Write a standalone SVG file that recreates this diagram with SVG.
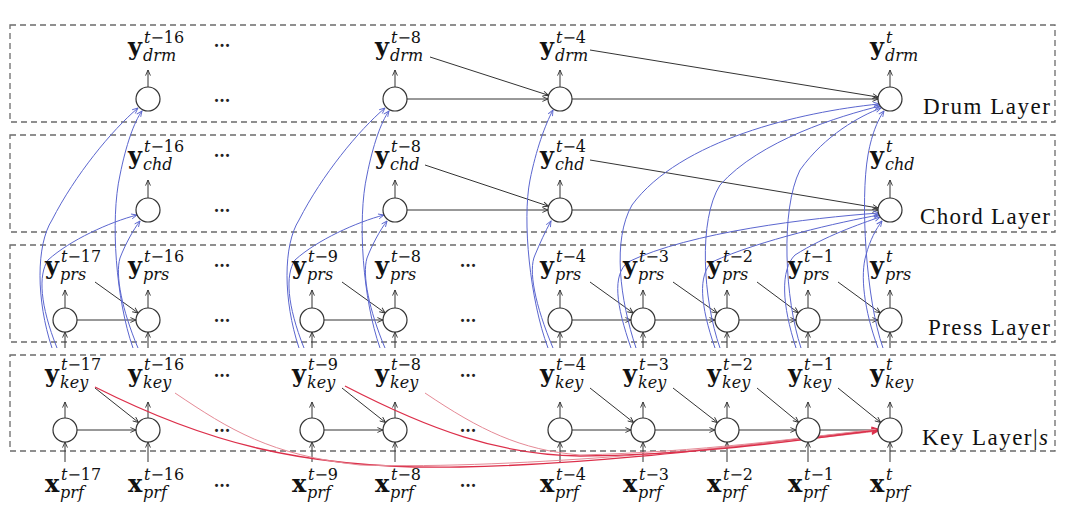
<svg xmlns="http://www.w3.org/2000/svg" width="1080" height="526" viewBox="0 0 1080 526">
<defs>
<style>
.box{fill:none;stroke:#6b6b6b;stroke-width:1.3;stroke-dasharray:6,4}
.nd{fill:#fff;stroke:#333;stroke-width:1.2}
.ln{fill:none;stroke:#333;stroke-width:1;marker-end:url(#ak)}
.bl{fill:none;stroke:#5b66cf;stroke-width:1;marker-end:url(#ab)}
.rd{fill:none;stroke:#dc2f4a;stroke-width:1.3;marker-end:url(#ar)}
.rl{fill:none;stroke:#e58a96;stroke-width:1;marker-end:url(#ar)}
.b{font-family:"DejaVu Serif",serif;font-weight:bold;font-size:24px;fill:#111}
.sp{font-family:"DejaVu Serif",serif;font-size:16px;fill:#111}
.sb{font-family:"DejaVu Serif",serif;font-style:italic;font-size:16px;fill:#111}
.i{font-style:italic}
.lay{font-family:"Liberation Serif","Times New Roman",serif;font-size:23px;fill:#111}
.dt{font-family:"DejaVu Serif",serif;font-weight:bold;font-size:16px;text-anchor:middle;fill:#222}
</style>
<marker id="ak" viewBox="0 0 10 10" refX="9" refY="5" markerWidth="7" markerHeight="7" markerUnits="userSpaceOnUse" orient="auto"><path d="M1,1.5 L9,5 L1,8.5" fill="none" stroke="#333" stroke-width="1.3"/></marker>
<marker id="ab" viewBox="0 0 10 10" refX="9" refY="5" markerWidth="7" markerHeight="7" markerUnits="userSpaceOnUse" orient="auto"><path d="M1,1.5 L9,5 L1,8.5" fill="none" stroke="#5b66cf" stroke-width="1.3"/></marker>
<marker id="ar" viewBox="0 0 10 10" refX="9" refY="5" markerWidth="8" markerHeight="8" markerUnits="userSpaceOnUse" orient="auto"><path d="M1,1.5 L9,5 L1,8.5" fill="none" stroke="#dc2f4a" stroke-width="1.5"/></marker>
</defs>
<rect width="1080" height="526" fill="#fff"/>

<g id="layers">
<rect class="box" x="10" y="25" width="1045" height="97"/>
<rect class="box" x="10" y="135" width="1045" height="97"/>
<rect class="box" x="10" y="245" width="1045" height="97"/>
<rect class="box" x="10" y="355" width="1045" height="96"/>
<text class="lay" x="923" y="114" textLength="127" lengthAdjust="spacing">Drum Layer</text>
<text class="lay" x="920" y="224" textLength="130" lengthAdjust="spacing">Chord Layer</text>
<text class="lay" x="928" y="335" textLength="122" lengthAdjust="spacing">Press Layer</text>
<text class="lay" x="922" y="445" textLength="126" lengthAdjust="spacing">Key Layer|<tspan font-style="italic">s</tspan></text>
</g>

<g id="dots">
<text class="dt" x="222" y="47">...</text>
<text class="dt" x="222" y="102">...</text>
<text class="dt" x="222" y="157">...</text>
<text class="dt" x="222" y="212">...</text>
<text class="dt" x="222" y="267">...</text>
<text class="dt" x="222" y="322">...</text>
<text class="dt" x="222" y="377">...</text>
<text class="dt" x="222" y="432">...</text>
<text class="dt" x="222" y="487">...</text>
<text class="dt" x="468" y="267">...</text>
<text class="dt" x="468" y="322">...</text>
<text class="dt" x="468" y="377">...</text>
<text class="dt" x="468" y="432">...</text>
<text class="dt" x="468" y="487">...</text>
</g>

<g id="connectors">
<path class="ln" d="M148,87 V70"/><path class="ln" d="M395,87 V70"/><path class="ln" d="M560,87 V70"/><path class="ln" d="M890,87 V70"/>
<path class="ln" d="M148,198 V180"/><path class="ln" d="M395,198 V180"/><path class="ln" d="M560,198 V180"/><path class="ln" d="M890,198 V180"/>
<path class="ln" d="M65,308 V290"/><path class="ln" d="M148,308 V290"/><path class="ln" d="M312,308 V290"/><path class="ln" d="M395,308 V290"/><path class="ln" d="M560,308 V290"/><path class="ln" d="M643,308 V290"/><path class="ln" d="M727,308 V290"/><path class="ln" d="M808,308 V290"/><path class="ln" d="M890,308 V290"/>
<path class="ln" d="M65,418 V402"/><path class="ln" d="M148,418 V402"/><path class="ln" d="M312,418 V402"/><path class="ln" d="M395,418 V402"/><path class="ln" d="M560,418 V402"/><path class="ln" d="M643,418 V402"/><path class="ln" d="M727,418 V402"/><path class="ln" d="M808,418 V402"/><path class="ln" d="M890,418 V402"/>
<path class="ln" d="M65,348 V332"/><path class="ln" d="M148,348 V332"/><path class="ln" d="M312,348 V332"/><path class="ln" d="M395,348 V332"/><path class="ln" d="M560,348 V332"/><path class="ln" d="M643,348 V332"/><path class="ln" d="M727,348 V332"/><path class="ln" d="M808,348 V332"/><path class="ln" d="M890,348 V332"/>
<path class="ln" d="M65,462 V442"/><path class="ln" d="M148,462 V442"/><path class="ln" d="M312,462 V442"/><path class="ln" d="M395,462 V442"/><path class="ln" d="M560,462 V442"/><path class="ln" d="M643,462 V442"/><path class="ln" d="M727,462 V442"/><path class="ln" d="M808,462 V442"/><path class="ln" d="M890,462 V442"/>
<path class="ln" d="M407,99 H548"/><path class="ln" d="M572,99 H878"/>
<path class="ln" d="M407,210 H548"/><path class="ln" d="M572,210 H878"/>
<path class="ln" d="M77,320 H136"/><path class="ln" d="M324,320 H383"/><path class="ln" d="M572,320 H631"/><path class="ln" d="M655,320 H715"/><path class="ln" d="M739,320 H796"/><path class="ln" d="M820,320 H878"/>
<path class="ln" d="M77,430 H136"/><path class="ln" d="M324,430 H383"/><path class="ln" d="M572,430 H631"/><path class="ln" d="M655,430 H715"/><path class="ln" d="M739,430 H796"/><path class="ln" d="M820,430 H878"/>
<path class="ln" d="M430,57 L548.6,95.3"/><path class="ln" d="M590,50 L878.2,97.1"/>
<path class="ln" d="M425,165 L548.6,206.2"/><path class="ln" d="M590,160 L878.2,208"/>
<path class="ln" d="M95,282 L138.2,313"/><path class="ln" d="M342,282 L385.2,313"/><path class="ln" d="M590,282 L633.2,313"/><path class="ln" d="M673,282 L717.2,313.1"/><path class="ln" d="M757,282 L798.4,312.8"/><path class="ln" d="M838,282 L880.3,312.9"/>
<path class="ln" d="M95,388 L138.6,422.5"/><path class="ln" d="M342,388 L385.6,422.5"/><path class="ln" d="M590,388 L633.6,422.5"/><path class="ln" d="M673,388 L717.5,422.6"/><path class="ln" d="M757,388 L798.7,422.4"/><path class="ln" d="M838,388 L880.7,422.5"/>
<path class="bl" d="M52,348 C36,300 36,245 52,220 C75,175 112,130 138,108"/>
<path class="bl" d="M133,348 C116,300 110,220 120,175 C126,145 134,122 142,111"/>
<path class="bl" d="M57,348 C40,305 38,275 48,260 C70,240 110,222 137,215"/>
<path class="bl" d="M138,348 C122,310 115,275 120,258 C125,245 133,230 140,221"/>
<path class="bl" d="M299,348 C283,300 283,245 299,220 C322,175 359,130 385,108"/>
<path class="bl" d="M380,348 C363,300 357,220 367,175 C373,145 381,122 389,111"/>
<path class="bl" d="M304,348 C287,305 285,275 295,260 C317,240 357,222 384,215"/>
<path class="bl" d="M385,348 C369,310 362,275 367,258 C372,245 380,230 387,221"/>
<path class="bl" d="M548,348 C530,300 522,220 530,180 C536,150 545,125 553,110"/>
<path class="bl" d="M553,348 C535,305 528,270 535,255 C540,243 545,232 551,221"/>
<path class="bl" d="M636,348 C620,300 612,240 632,205 C680,140 800,112 879,104"/>
<path class="bl" d="M631,348 C616,305 612,275 628,262 C690,232 810,218 879,213"/>
<path class="bl" d="M720,348 C703,300 698,220 720,185 C760,140 840,116 880,106"/>
<path class="bl" d="M715,348 C700,305 698,275 712,262 C760,240 840,222 879,215"/>
<path class="bl" d="M801,348 C785,300 780,210 800,170 C825,135 860,116 881,108"/>
<path class="bl" d="M796,348 C782,305 780,270 795,255 C825,236 860,224 880,217"/>
<path class="bl" d="M883,348 C866,300 860,200 868,155 C872,132 879,118 884,111"/>
<path class="bl" d="M878,348 C864,310 860,275 866,255 C870,240 876,229 882,221"/>
<path class="rd" d="M95,387 C200,440 300,470 460,467 C620,464 780,440 878,430"/>
<path class="rl" d="M175,393 C230,430 270,455 360,465 C520,470 760,445 878,431"/>
<path class="rd" d="M345,386 C430,430 500,455 580,456 C700,455 800,440 878,430"/>
<path class="rl" d="M425,393 C480,430 520,450 580,455 C700,452 800,438 878,429"/>
</g>

<g id="drum-nodes">
<g id="drm-t16"><circle class="nd" cx="148" cy="99" r="12"/></g>
<g id="drm-t8"><circle class="nd" cx="395" cy="99" r="12"/></g>
<g id="drm-t4"><circle class="nd" cx="560" cy="99" r="12"/></g>
<g id="drm-t"><circle class="nd" cx="890" cy="99" r="12"/></g>
</g>
<g id="chord-nodes">
<g id="chd-t16"><circle class="nd" cx="148" cy="210" r="12"/></g>
<g id="chd-t8"><circle class="nd" cx="395" cy="210" r="12"/></g>
<g id="chd-t4"><circle class="nd" cx="560" cy="210" r="12"/></g>
<g id="chd-t"><circle class="nd" cx="890" cy="210" r="12"/></g>
</g>
<g id="press-nodes">
<g id="prs-t17"><circle class="nd" cx="65" cy="320" r="12"/></g>
<g id="prs-t16"><circle class="nd" cx="148" cy="320" r="12"/></g>
<g id="prs-t9"><circle class="nd" cx="312" cy="320" r="12"/></g>
<g id="prs-t8"><circle class="nd" cx="395" cy="320" r="12"/></g>
<g id="prs-t4"><circle class="nd" cx="560" cy="320" r="12"/></g>
<g id="prs-t3"><circle class="nd" cx="643" cy="320" r="12"/></g>
<g id="prs-t2"><circle class="nd" cx="727" cy="320" r="12"/></g>
<g id="prs-t1"><circle class="nd" cx="808" cy="320" r="12"/></g>
<g id="prs-t"><circle class="nd" cx="890" cy="320" r="12"/></g>
</g>
<g id="key-nodes">
<g id="key-t17"><circle class="nd" cx="65" cy="430" r="12"/></g>
<g id="key-t16"><circle class="nd" cx="148" cy="430" r="12"/></g>
<g id="key-t9"><circle class="nd" cx="312" cy="430" r="12"/></g>
<g id="key-t8"><circle class="nd" cx="395" cy="430" r="12"/></g>
<g id="key-t4"><circle class="nd" cx="560" cy="430" r="12"/></g>
<g id="key-t3"><circle class="nd" cx="643" cy="430" r="12"/></g>
<g id="key-t2"><circle class="nd" cx="727" cy="430" r="12"/></g>
<g id="key-t1"><circle class="nd" cx="808" cy="430" r="12"/></g>
<g id="key-t"><circle class="nd" cx="890" cy="430" r="12"/></g>
</g>

<g id="labels-drm">
<g id="y-drm-t16"><text class="b" x="128" y="55">y</text><text class="sp" x="144" y="43"><tspan class="i">t</tspan>−16</text><text class="sb" x="143" y="61">drm</text></g>
<g id="y-drm-t8"><text class="b" x="375" y="55">y</text><text class="sp" x="391" y="43"><tspan class="i">t</tspan>−8</text><text class="sb" x="390" y="61">drm</text></g>
<g id="y-drm-t4"><text class="b" x="540" y="55">y</text><text class="sp" x="556" y="43"><tspan class="i">t</tspan>−4</text><text class="sb" x="555" y="61">drm</text></g>
<g id="y-drm-t"><text class="b" x="870" y="55">y</text><text class="sp i" x="886" y="43">t</text><text class="sb" x="885" y="61">drm</text></g>
</g>
<g id="labels-chd">
<g id="y-chd-t16"><text class="b" x="128" y="164">y</text><text class="sp" x="144" y="152"><tspan class="i">t</tspan>−16</text><text class="sb" x="143" y="170">chd</text></g>
<g id="y-chd-t8"><text class="b" x="375" y="164">y</text><text class="sp" x="391" y="152"><tspan class="i">t</tspan>−8</text><text class="sb" x="390" y="170">chd</text></g>
<g id="y-chd-t4"><text class="b" x="540" y="164">y</text><text class="sp" x="556" y="152"><tspan class="i">t</tspan>−4</text><text class="sb" x="555" y="170">chd</text></g>
<g id="y-chd-t"><text class="b" x="870" y="164">y</text><text class="sp i" x="886" y="152">t</text><text class="sb" x="885" y="170">chd</text></g>
</g>
<g id="labels-prs">
<g id="y-prs-t17"><text class="b" x="45" y="274">y</text><text class="sp" x="61" y="262"><tspan class="i">t</tspan>−17</text><text class="sb" x="60" y="280">prs</text></g>
<g id="y-prs-t16"><text class="b" x="128" y="274">y</text><text class="sp" x="144" y="262"><tspan class="i">t</tspan>−16</text><text class="sb" x="143" y="280">prs</text></g>
<g id="y-prs-t9"><text class="b" x="292" y="274">y</text><text class="sp" x="308" y="262"><tspan class="i">t</tspan>−9</text><text class="sb" x="307" y="280">prs</text></g>
<g id="y-prs-t8"><text class="b" x="375" y="274">y</text><text class="sp" x="391" y="262"><tspan class="i">t</tspan>−8</text><text class="sb" x="390" y="280">prs</text></g>
<g id="y-prs-t4"><text class="b" x="540" y="274">y</text><text class="sp" x="556" y="262"><tspan class="i">t</tspan>−4</text><text class="sb" x="555" y="280">prs</text></g>
<g id="y-prs-t3"><text class="b" x="623" y="274">y</text><text class="sp" x="639" y="262"><tspan class="i">t</tspan>−3</text><text class="sb" x="638" y="280">prs</text></g>
<g id="y-prs-t2"><text class="b" x="707" y="274">y</text><text class="sp" x="723" y="262"><tspan class="i">t</tspan>−2</text><text class="sb" x="722" y="280">prs</text></g>
<g id="y-prs-t1"><text class="b" x="788" y="274">y</text><text class="sp" x="804" y="262"><tspan class="i">t</tspan>−1</text><text class="sb" x="803" y="280">prs</text></g>
<g id="y-prs-t"><text class="b" x="870" y="274">y</text><text class="sp i" x="886" y="262">t</text><text class="sb" x="885" y="280">prs</text></g>
</g>
<g id="labels-key">
<g id="y-key-t17"><text class="b" x="45" y="382">y</text><text class="sp" x="61" y="370"><tspan class="i">t</tspan>−17</text><text class="sb" x="60" y="388">key</text></g>
<g id="y-key-t16"><text class="b" x="128" y="382">y</text><text class="sp" x="144" y="370"><tspan class="i">t</tspan>−16</text><text class="sb" x="143" y="388">key</text></g>
<g id="y-key-t9"><text class="b" x="292" y="382">y</text><text class="sp" x="308" y="370"><tspan class="i">t</tspan>−9</text><text class="sb" x="307" y="388">key</text></g>
<g id="y-key-t8"><text class="b" x="375" y="382">y</text><text class="sp" x="391" y="370"><tspan class="i">t</tspan>−8</text><text class="sb" x="390" y="388">key</text></g>
<g id="y-key-t4"><text class="b" x="540" y="382">y</text><text class="sp" x="556" y="370"><tspan class="i">t</tspan>−4</text><text class="sb" x="555" y="388">key</text></g>
<g id="y-key-t3"><text class="b" x="623" y="382">y</text><text class="sp" x="639" y="370"><tspan class="i">t</tspan>−3</text><text class="sb" x="638" y="388">key</text></g>
<g id="y-key-t2"><text class="b" x="707" y="382">y</text><text class="sp" x="723" y="370"><tspan class="i">t</tspan>−2</text><text class="sb" x="722" y="388">key</text></g>
<g id="y-key-t1"><text class="b" x="788" y="382">y</text><text class="sp" x="804" y="370"><tspan class="i">t</tspan>−1</text><text class="sb" x="803" y="388">key</text></g>
<g id="y-key-t"><text class="b" x="870" y="382">y</text><text class="sp i" x="886" y="370">t</text><text class="sb" x="885" y="388">key</text></g>
</g>
<g id="inputs">
<g id="x-prf-t17"><text class="b" x="45" y="492">x</text><text class="sp" x="61" y="480"><tspan class="i">t</tspan>−17</text><text class="sb" x="60" y="498">prf</text></g>
<g id="x-prf-t16"><text class="b" x="128" y="492">x</text><text class="sp" x="144" y="480"><tspan class="i">t</tspan>−16</text><text class="sb" x="143" y="498">prf</text></g>
<g id="x-prf-t9"><text class="b" x="292" y="492">x</text><text class="sp" x="308" y="480"><tspan class="i">t</tspan>−9</text><text class="sb" x="307" y="498">prf</text></g>
<g id="x-prf-t8"><text class="b" x="375" y="492">x</text><text class="sp" x="391" y="480"><tspan class="i">t</tspan>−8</text><text class="sb" x="390" y="498">prf</text></g>
<g id="x-prf-t4"><text class="b" x="540" y="492">x</text><text class="sp" x="556" y="480"><tspan class="i">t</tspan>−4</text><text class="sb" x="555" y="498">prf</text></g>
<g id="x-prf-t3"><text class="b" x="623" y="492">x</text><text class="sp" x="639" y="480"><tspan class="i">t</tspan>−3</text><text class="sb" x="638" y="498">prf</text></g>
<g id="x-prf-t2"><text class="b" x="707" y="492">x</text><text class="sp" x="723" y="480"><tspan class="i">t</tspan>−2</text><text class="sb" x="722" y="498">prf</text></g>
<g id="x-prf-t1"><text class="b" x="788" y="492">x</text><text class="sp" x="804" y="480"><tspan class="i">t</tspan>−1</text><text class="sb" x="803" y="498">prf</text></g>
<g id="x-prf-t"><text class="b" x="870" y="492">x</text><text class="sp i" x="886" y="480">t</text><text class="sb" x="885" y="498">prf</text></g>
</g>
</svg>
